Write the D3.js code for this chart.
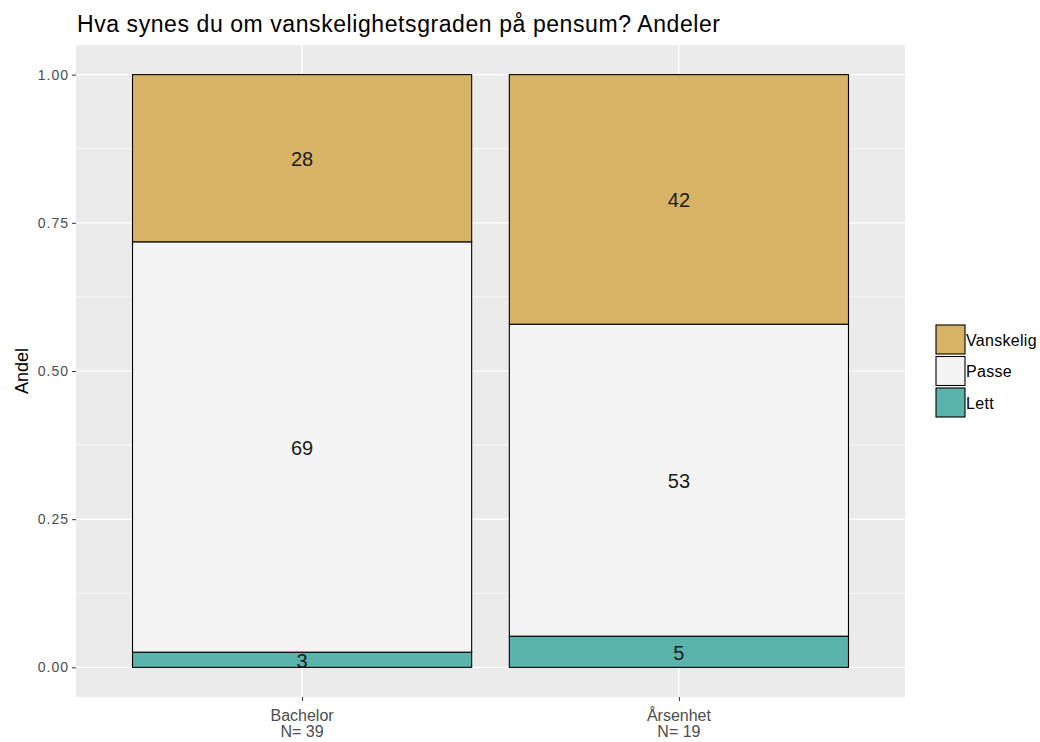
<!DOCTYPE html>
<html>
<head>
<meta charset="utf-8">
<script src="https://cdn.jsdelivr.net/npm/d3@7"></script>
<style>
  body { margin: 0; background: #fff; }
  svg { font-family: "Liberation Sans", Arial, sans-serif; }
</style>
</head>
<body>
<div id="chart"></div>
<script>
// data: proportions per group, stacked bottom -> top
const groups = ["Bachelor", "Årsenhet"]
const groupN = [39, 19]
const levels = ["Lett", "Passe", "Vanskelig"]
const lett = [1 / 39, 1 / 19]
const passe = [27 / 39, 10 / 19]
const vanskelig = [11 / 39, 8 / 19]
const yTicks = [0, 0.25, 0.5, 0.75, 1]
const legendOrder = ["Vanskelig", "Passe", "Lett"]

const colors = { "Lett": "#5AB4AC", "Passe": "#F4F4F4", "Vanskelig": "#D8B365" }

const width = 1040, height = 742
const panel = { left: 76, right: 905, top: 45, bottom: 697 }

const svg = d3.select("#chart").append("svg")
    .attr("width", width)
    .attr("height", height)

// ggplot-like scales: discrete x with 0.6 expansion, y with 5% expansion
const x = d3.scaleLinear().domain([0.4, 2.6]).range([panel.left, panel.right])
const y = d3.scaleLinear().domain([-0.05, 1.05]).range([panel.bottom, panel.top])

svg.append("rect")
    .attr("x", panel.left).attr("y", panel.top)
    .attr("width", panel.right - panel.left)
    .attr("height", panel.bottom - panel.top)
    .attr("fill", "#EBEBEB")

// minor grid
const minor = [0.125, 0.375, 0.625, 0.875]
svg.append("g").selectAll("line").data(minor).enter().append("line")
    .attr("x1", panel.left).attr("x2", panel.right)
    .attr("y1", d => y(d)).attr("y2", d => y(d))
    .attr("stroke", "#fff").attr("stroke-width", 0.6)

// major grid
svg.append("g").selectAll("line").data(yTicks).enter().append("line")
    .attr("x1", panel.left).attr("x2", panel.right)
    .attr("y1", d => y(d)).attr("y2", d => y(d))
    .attr("stroke", "#fff").attr("stroke-width", 1.2)

svg.append("g").selectAll("line").data(groups).enter().append("line")
    .attr("x1", (d, i) => x(i + 1)).attr("x2", (d, i) => x(i + 1))
    .attr("y1", panel.top).attr("y2", panel.bottom)
    .attr("stroke", "#fff").attr("stroke-width", 1.2)

// stacked data
const table = groups.map((g, i) => ({ group: g, idx: i + 1, Lett: lett[i], Passe: passe[i], Vanskelig: vanskelig[i] }))
const series = d3.stack().keys(levels)(table)

const barW = x(1.45) - x(0.55)

const layers = svg.append("g").selectAll("g").data(series).enter().append("g")
    .attr("fill", d => colors[d.key])

layers.selectAll("rect").data(d => d).enter().append("rect")
    .attr("x", d => x(d.data.idx) - barW / 2)
    .attr("width", barW)
    .attr("y", d => y(d[1]))
    .attr("height", d => y(d[0]) - y(d[1]))
    .attr("stroke", "#000")
    .attr("stroke-width", 1.1)

layers.selectAll("text").data(d => d).enter().append("text")
    .attr("x", d => x(d.data.idx))
    .attr("y", d => y((d[0] + d[1]) / 2))
    .attr("dy", "0.4em")
    .attr("text-anchor", "middle")
    .attr("font-size", 20)
    .attr("fill", "#1a1a1a")
    .text(d => Math.round((d[1] - d[0]) * 100))

// y axis
const yAxis = svg.append("g").attr("transform", `translate(${panel.left},0)`)
    .call(d3.axisLeft(y).tickValues(yTicks).tickFormat(d3.format(".2f")).tickSize(4).tickPadding(3))
yAxis.select(".domain").remove()
yAxis.selectAll("line").attr("stroke", "#333")
yAxis.selectAll("text").attr("fill", "#4D4D4D").attr("font-size", 14)
    .attr("letter-spacing", 1)
    .attr("font-family", "Liberation Sans, Arial, sans-serif")

// x axis
const xAxis = svg.append("g").attr("transform", `translate(0,${panel.bottom})`)
    .call(d3.axisBottom(x).tickValues([1, 2]).tickFormat(() => "").tickSize(4))
xAxis.select(".domain").remove()
xAxis.selectAll("line").attr("stroke", "#333")

const xLab = svg.append("g").selectAll("text").data(groups).enter().append("text")
    .attr("x", (d, i) => x(i + 1))
    .attr("y", 721)
    .attr("text-anchor", "middle")
    .attr("font-size", 16)
    .attr("fill", "#4D4D4D")
xLab.append("tspan").attr("x", (d, i) => x(i + 1)).text(d => d)
xLab.append("tspan").attr("x", (d, i) => x(i + 1)).attr("dy", 16)
    .text((d, i) => "N= " + groupN[i])

// y title
svg.append("text")
    .attr("transform", `translate(28,${(panel.top + panel.bottom) / 2}) rotate(-90)`)
    .attr("text-anchor", "middle")
    .attr("font-size", 18)
    .attr("fill", "#000")
    .text("Andel")

// title
svg.append("text")
    .attr("x", 77).attr("y", 32)
    .attr("font-size", 23)
    .attr("textLength", 643)
    .attr("lengthAdjust", "spacing")
    .attr("fill", "#000")
    .text("Hva synes du om vanskelighetsgraden på pensum? Andeler")

// legend
const legend = svg.append("g").attr("transform", "translate(936,325)")
const items = legend.selectAll("g").data(legendOrder).enter().append("g")
    .attr("transform", (d, i) => `translate(0,${i * 31.5})`)
items.append("rect")
    .attr("width", 29).attr("height", 29)
    .attr("fill", d => colors[d])
    .attr("stroke", "#000").attr("stroke-width", 1.1)
items.append("text")
    .attr("x", 30).attr("y", 15).attr("dy", "0.36em")
    .attr("font-size", 16)
    .attr("letter-spacing", 0.3)
    .attr("fill", "#000")
    .text(d => d)
</script>
</body>
</html>
